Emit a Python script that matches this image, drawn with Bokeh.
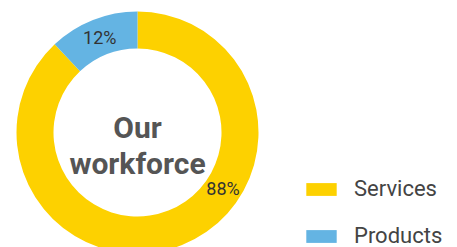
import math
from bokeh.plotting import figure
from bokeh.models import Range1d, Legend, LegendItem, ColumnDataSource
from bokeh.core.properties import value
from bokeh.embed import file_html
from bokeh.resources import INLINE

# ---- data ----
categories = ["Services", "Products"]
shares = [88, 12]
colors = ["#FDD100", "#64B4E3"]
pct_labels = ["88%", "12%"]
title_lines = ["Our", "workforce"]

W, H = 457, 247
CX, CY = 137, 115
R_OUT, R_IN = 121, 84

p = figure(width=W, height=H, output_backend="svg", toolbar_location=None,
           x_range=Range1d(0, W), y_range=Range1d(0, H), min_border=0,
           x_axis_location=None, y_axis_location=None)
p.grid.visible = False
p.outline_line_color = None
p.background_fill_color = "white"

# slices drawn anticlockwise from 12 o'clock: Products first, then Services
order = [1, 0]
total = float(sum(shares))
starts, ends = [0.0, 0.0], [0.0, 0.0]
a = math.pi / 2
for i in order:
    span = shares[i] / total * 2 * math.pi
    starts[i] = a
    ends[i] = a + span
    a += span

src = ColumnDataSource(dict(cat=categories, share=shares, color=colors,
                            start=starts, end=ends, x=[CX] * 2, y=[CY] * 2))
r = p.annular_wedge(x="x", y="y", inner_radius=R_IN, outer_radius=R_OUT,
                    start_angle="start", end_angle="end", direction="anticlock",
                    fill_color="color", line_color=None, source=src)

# percentage labels
mid_r = (R_IN + R_OUT) / 2
label_angles = [math.radians(-33.4), (starts[1] + ends[1]) / 2]
lx = [CX + mid_r * math.cos(t) for t in label_angles]
ly = [CY + mid_r * math.sin(t) for t in label_angles]
p.text(x=lx, y=ly, text=pct_labels, text_align="center", text_baseline="middle",
       text_font=value("Roboto"), text_font_size="18px", text_color="#333333")

# centre title
p.text(x=[CX, CX], y=[CY + 5, CY - 31], text=title_lines, text_align="center",
       text_baseline="alphabetic", text_font=value("Roboto"), text_font_style="bold",
       text_font_size="30px", text_color="#555555")

legend = Legend(items=[LegendItem(label=categories[0], renderers=[r], index=0),
                       LegendItem(label=categories[1], renderers=[r], index=1)],
                location=(302, -1), orientation="vertical",
                glyph_width=38, glyph_height=16, label_standoff=14, spacing=22,
                label_text_font="Roboto", label_text_font_size="22px",
                label_text_color="#444444", padding=0, margin=0,
                border_line_color=None, background_fill_alpha=0)
p.add_layout(legend)

open("out.html", "w").write(file_html(p, INLINE))
